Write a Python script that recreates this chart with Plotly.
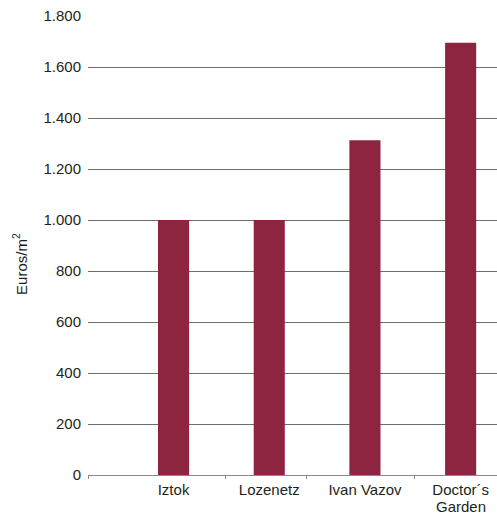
import plotly.graph_objects as go

categories = ["Iztok", "Lozenetz", "Ivan Vazov", "Doctor´s Garden"]
values = [1000, 1000, 1313, 1695]
y_ticks = [0, 200, 400, 600, 800, 1000, 1200, 1400, 1600, 1800]
y_tick_labels = ["0", "200", "400", "600", "800", "1.000", "1.200", "1.400", "1.600", "1.800"]
x_tick_marks = [-0.894, 0.54, 1.39, 2.52]

bar_color = "#8E2540"
font_fam = "Liberation Sans, Arial, sans-serif"
text_color = "#231F20"

x_pos = list(range(len(categories)))
# first line of each label goes on the axis, a second line (if any) as annotation
first_lines = []
second_lines = []
for c in categories:
    if c == "Doctor´s Garden":
        first_lines.append("Doctor´s")
        second_lines.append("Garden")
    else:
        first_lines.append(c)
        second_lines.append("")

fig = go.Figure()
fig.add_trace(go.Bar(
    x=x_pos, y=values, width=0.325,
    marker=dict(color=bar_color, line=dict(width=0)),
    showlegend=False, hoverinfo="skip",
))
# invisible trace for tick-mark axis
fig.add_trace(go.Scatter(x=[x_tick_marks[0]], y=[0], xaxis="x2", mode="markers",
                         marker=dict(opacity=0), showlegend=False, hoverinfo="skip"))

annotations = [dict(
    text="Euros/m<sup>2</sup>", textangle=-90,
    xref="paper", yref="paper", x=-0.166, y=0.46,
    showarrow=False, font=dict(size=15, color=text_color),
    xanchor="center", yanchor="middle",
)]
for xp, s in zip(x_pos, second_lines):
    if s:
        annotations.append(dict(
            text=s, x=xp, y=0, xref="x", yref="y", yshift=-31,
            showarrow=False, font=dict(size=15, color=text_color),
            xanchor="center", yanchor="middle",
        ))

xr = [-0.894, 3.38]
fig.update_layout(
    width=497, height=514,
    margin=dict(l=88, r=0, t=16, b=39),
    paper_bgcolor="white", plot_bgcolor="white",
    font=dict(family=font_fam, size=15, color=text_color),
    xaxis=dict(
        range=xr, tickvals=x_pos, ticktext=first_lines,
        showgrid=False, zeroline=False, showline=True,
        linecolor="#8a8a8a", linewidth=1, ticks="",
        ticklabelstandoff=1, automargin=False,
        tickfont=dict(size=15, color=text_color),
    ),
    xaxis2=dict(
        range=xr, overlaying="x", anchor="y", side="bottom",
        tickvals=x_tick_marks, ticktext=["", "", "", ""],
        ticks="outside", ticklen=3, tickcolor="#8a8a8a", tickwidth=1,
        showgrid=False, zeroline=False, showline=False, automargin=False,
    ),
    yaxis=dict(
        range=[0, 1800], tickvals=y_ticks, ticktext=y_tick_labels,
        showgrid=True, gridcolor="#6e6e6e", gridwidth=1.3,
        zeroline=False, showline=False, ticks="",
        ticklabelstandoff=6, automargin=False,
        tickfont=dict(size=15, color=text_color),
    ),
    annotations=annotations,
)

fig.write_html("out.html")
